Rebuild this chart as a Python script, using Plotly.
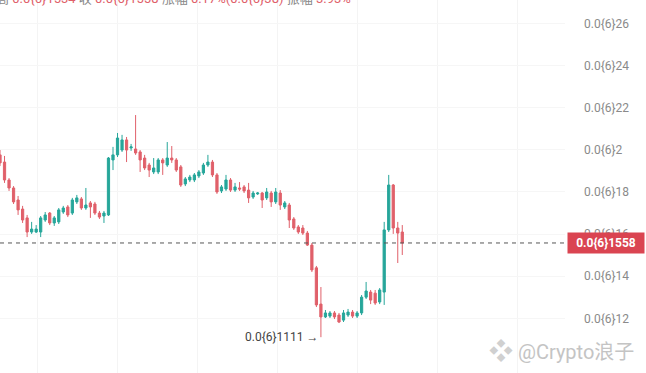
import plotly.graph_objects as go

# candle index (time axis)
idx = list(range(1, 91))

open_ = [0.1976,0.1942,0.1857,0.1819,0.1762,0.1719,0.1677,0.1610,0.1610,0.1610,
         0.1667,0.1700,0.1653,0.1658,0.1705,0.1729,0.1700,0.1753,0.1767,0.1724,
         0.1748,0.1743,0.1700,0.1686,0.1691,0.1952,0.1976,0.1999,0.2047,0.2009,
         0.2004,0.1990,0.1961,0.1928,0.1895,0.1895,0.1952,0.1928,0.1961,0.1952,
         0.1919,0.1838,0.1857,0.1857,0.1876,0.1890,0.1928,0.1942,0.1881,0.1805,
         0.1814,0.1857,0.1809,0.1819,0.1824,0.1809,0.1776,0.1791,0.1795,0.1772,
         0.1795,0.1753,0.1795,0.1729,0.1738,0.1672,0.1634,0.1629,0.1605,0.1548,
         0.1440,0.1268,0.1207,0.1211,0.1226,0.1216,0.1192,0.1216,0.1230,0.1211,
         0.1226,0.1301,0.1325,0.1320,0.1278,0.1325,0.1620,0.1833,0.1629,0.1610]
high = [0.1999,0.1971,0.1866,0.1828,0.1781,0.1734,0.1691,0.1658,0.1643,0.1686,
        0.1705,0.1705,0.1686,0.1724,0.1734,0.1738,0.1772,0.1786,0.1776,0.1819,
        0.1757,0.1753,0.1710,0.1710,0.1966,0.2014,0.2080,0.2071,0.2061,0.2028,
        0.2165,0.1999,0.1976,0.1938,0.1961,0.1961,0.1961,0.2037,0.2018,0.1961,
        0.1928,0.1871,0.1881,0.1890,0.1904,0.1938,0.1976,0.1952,0.1890,0.1833,
        0.1881,0.1866,0.1843,0.1847,0.1833,0.1843,0.1805,0.1800,0.1800,0.1819,
        0.1805,0.1819,0.1809,0.1757,0.1748,0.1681,0.1643,0.1643,0.1615,0.1558,
        0.1449,0.1349,0.1240,0.1235,0.1235,0.1226,0.1240,0.1245,0.1240,0.1235,
        0.1311,0.1373,0.1335,0.1335,0.1344,0.1658,0.1881,0.1838,0.1658,0.1643]
low = [0.1923,0.1843,0.1805,0.1743,0.1691,0.1653,0.1586,0.1601,0.1605,0.1586,
       0.1658,0.1643,0.1639,0.1648,0.1696,0.1681,0.1691,0.1743,0.1715,0.1715,
       0.1677,0.1691,0.1672,0.1653,0.1686,0.1904,0.1966,0.1990,0.1942,0.1995,
       0.1976,0.1895,0.1904,0.1871,0.1885,0.1885,0.1881,0.1919,0.1938,0.1895,
       0.1824,0.1828,0.1847,0.1847,0.1866,0.1881,0.1919,0.1871,0.1791,0.1795,
       0.1805,0.1800,0.1800,0.1805,0.1795,0.1748,0.1767,0.1786,0.1724,0.1762,
       0.1729,0.1743,0.1715,0.1719,0.1629,0.1620,0.1601,0.1596,0.1544,0.1420,
       0.1254,0.1111,0.1202,0.1202,0.1197,0.1178,0.1183,0.1207,0.1202,0.1202,
       0.1216,0.1292,0.1268,0.1264,0.1268,0.1264,0.1610,0.1601,0.1463,0.1501]
close = [0.1938,0.1857,0.1819,0.1753,0.1715,0.1667,0.1610,0.1624,0.1624,0.1677,
         0.1691,0.1653,0.1677,0.1715,0.1724,0.1691,0.1762,0.1772,0.1724,0.1738,
         0.1729,0.1700,0.1681,0.1700,0.1961,0.1976,0.2056,0.2047,0.1999,0.2014,
         0.1985,0.1952,0.1914,0.1904,0.1914,0.1952,0.1938,0.1961,0.1952,0.1904,
         0.1833,0.1862,0.1871,0.1881,0.1895,0.1928,0.1942,0.1881,0.1800,0.1824,
         0.1857,0.1809,0.1824,0.1814,0.1805,0.1772,0.1795,0.1795,0.1762,0.1800,
         0.1753,0.1800,0.1738,0.1748,0.1667,0.1629,0.1610,0.1605,0.1548,0.1430,
         0.1264,0.1207,0.1226,0.1226,0.1207,0.1183,0.1226,0.1230,0.1211,0.1226,
         0.1301,0.1330,0.1287,0.1273,0.1335,0.1620,0.1833,0.1629,0.1605,0.1558]

tick_vals = [0.12, 0.14, 0.16, 0.18, 0.20, 0.22, 0.24, 0.26]
tick_text = ["0.0{6}12", "0.0{6}14", "0.0{6}16", "0.0{6}18",
             "0.0{6}2", "0.0{6}22", "0.0{6}24", "0.0{6}26"]

last_price = 0.1558
last_label = "0.0{6}1558"
low_label = "0.0{6}1111 <b>→</b>"
low_idx = 72
low_val = 0.1111

GREEN = "#26a69a"
RED = "#e0606a"

fig = go.Figure(go.Candlestick(
    x=idx, open=open_, high=high, low=low, close=close,
    increasing=dict(line=dict(color=GREEN, width=1), fillcolor=GREEN),
    decreasing=dict(line=dict(color=RED, width=1), fillcolor=RED),
    whiskerwidth=0, showlegend=False, hoverinfo="skip",
))

fig.add_shape(type="line", xref="paper", x0=0, x1=1.005, yref="y",
              y0=last_price, y1=last_price,
              line=dict(color="#555555", width=1, dash="4px,4px"))

fig.add_annotation(xref="paper", x=1.003, xanchor="left", yref="y", y=last_price,
                   text="<b>" + last_label + "</b>", showarrow=False,
                   font=dict(family="Roboto", size=12, color="white"),
                   bgcolor="#da4451", borderpad=3, width=70, align="center")

fig.add_annotation(x=low_idx, y=low_val, xanchor="right", yanchor="middle",
                   xshift=-1, text=low_label, showarrow=False,
                   font=dict(family="Roboto", size=12, color="#444444"))

top_text = ("<span style='color:#888'>高 </span><span style='color:#e0606a'>0.0{6}1534</span>"
            "<span style='color:#888'> 收 </span><span style='color:#e0606a'>0.0{6}1558</span>"
            "<span style='color:#888'> 涨幅 </span><span style='color:#e0606a'>0.17%(0.0{6}38)</span>"
            "<span style='color:#888'> 振幅 </span><span style='color:#e0606a'>3.93%</span>")
fig.add_annotation(xref="paper", yref="paper", x=0, xanchor="left", y=1,
                   yanchor="middle", yshift=2, xshift=-6, text=top_text, showarrow=False,
                   font=dict(family="Roboto, Noto Sans CJK SC", size=13))

fig.add_annotation(xref="paper", yref="paper", x=1.125, xanchor="right", y=0,
                   yanchor="bottom", yshift=6,
                   text="<span style='color:#d0d0d0;font-size:24px'>❖</span> @Crypto浪子",
                   showarrow=False,
                   font=dict(family="Roboto, Noto Sans CJK SC", size=20, color="#c4c4c4"))

fig.update_layout(
    width=646, height=373,
    margin=dict(l=0, r=81, t=0, b=0),
    paper_bgcolor="white", plot_bgcolor="white",
    xaxis=dict(range=[1, 126], rangeslider=dict(visible=False),
               showticklabels=False, showgrid=True, gridcolor="#f4f4f4",
               tick0=9.2, dtick=17.7, zeroline=False, showline=False),
    yaxis=dict(side="right", range=[0.0941, 0.2711], tickvals=tick_vals,
               ticktext=tick_text, showgrid=True, gridcolor="#f6f6f6",
               zeroline=False, showline=False, ticks="",
               ticklabelstandoff=18,
               tickfont=dict(family="Roboto", size=12, color="#8a8a8a")),
)

fig.write_html("out.html")
